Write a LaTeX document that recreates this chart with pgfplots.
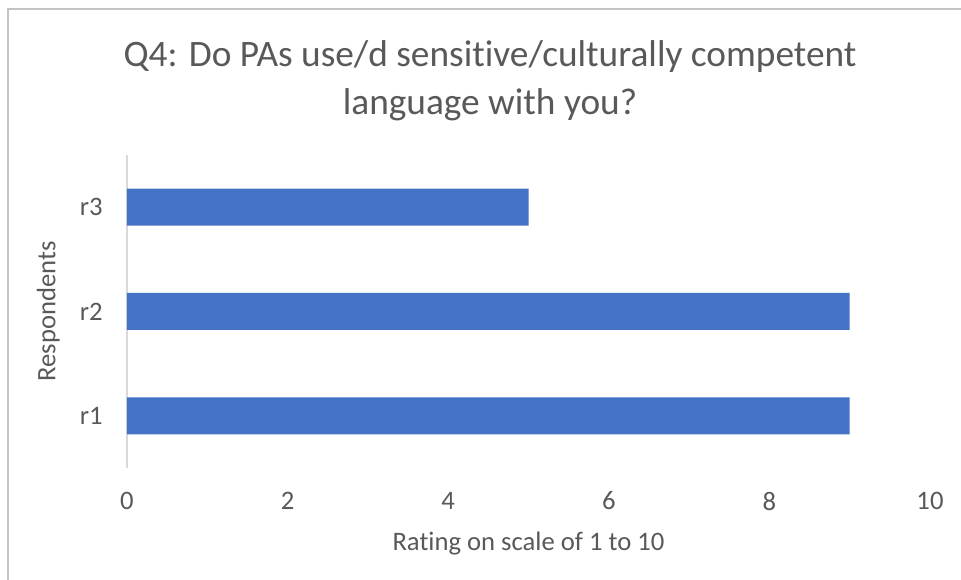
\documentclass[border=0pt]{standalone}
\usepackage{fontspec}
\setmainfont{Carlito}[Ligatures={NoCommon}]
\usepackage{pgfplots}
\pgfplotsset{compat=1.18}
\definecolor{barblue}{RGB}{68,114,196}
\definecolor{txtgray}{RGB}{89,89,89}
\definecolor{axgray}{RGB}{217,217,217}
\definecolor{framegray}{RGB}{196,196,196}
\begin{document}
\begin{tikzpicture}
\begin{scope}[x=0.75pt,y=0.75pt]
\path[use as bounding box, fill=white] (0,0) rectangle (961,580);
\draw[framegray, line width=1.5pt] (8,-10) -- (8,571) -- (975,571);
\node[anchor=base, text=txtgray, font=\fontsize{28}{34}\selectfont, inner sep=0] at (490,513) {Q4: Do PAs use/d sensitive/culturally competent};
\node[anchor=base, text=txtgray, font=\fontsize{28}{34}\selectfont, inner sep=0] at (490,465) {language with you?};
\end{scope}
\begin{axis}[
  at={(95.25pt,84pt)}, anchor=south west,
  scale only axis, width=602.25pt, height=234.75pt,
  xbar, bar width=27.75pt,
  xmin=0, xmax=10, ymin=0.5, ymax=3.5,
  xtick={0,2,4,6,8,10},
  ytick={1,2,3}, yticklabels={r1,r2,r3},
  axis y line=left, axis x line=bottom,
  x axis line style={draw=none},
  y axis line style={-, draw=axgray, line width=1.5pt},
  major tick length=0pt,
  /pgf/number format/assume math mode=true,
  tick label style={text=txtgray, font=\fontsize{20}{24}\selectfont},
  xticklabel style={anchor=center, yshift=-24.75pt, inner sep=0},
  yticklabel style={anchor=east, xshift=-18pt, inner sep=0},
  xlabel={Rating on scale of 1 to 10},
  ylabel={Respondents},
  label style={text=txtgray, font=\fontsize{20}{24}\selectfont},
  xlabel style={at={(axis description cs:0.5,-0.24)}, anchor=center},
  ylabel style={at={(axis description cs:-0.098,0.5)}, anchor=center},
]
\addplot[fill=barblue, draw=none] coordinates {(9,1) (9,2) (5,3)};
\end{axis}
\end{tikzpicture}
\end{document}
